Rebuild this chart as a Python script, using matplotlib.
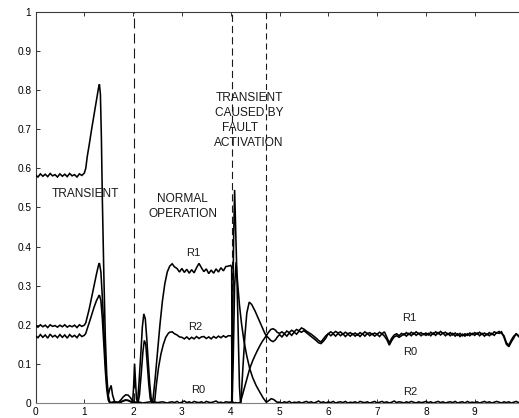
import numpy as np
import matplotlib
matplotlib.use("Agg")
import matplotlib.pyplot as plt

# ---- sampling instants of the steady stretches (s) ----
t_pre = np.round(np.arange(0.0, 1.001, 0.05), 2)       # 0.00 .. 1.00
t_normal = np.round(np.arange(2.80, 3.951, 0.05), 2)   # 2.80 .. 3.95
t_post = np.round(np.arange(5.00, 10.001, 0.05), 2)    # 5.00 .. 10.00

# ---- R0 ----
R0_pre = [0.583, 0.578, 0.586, 0.580, 0.585, 0.579, 0.587, 0.581, 0.584, 0.578,
          0.586, 0.580, 0.585, 0.579, 0.587, 0.581, 0.584, 0.578, 0.586, 0.582, 0.588]
R0_tr1_t = [1.03, 1.06, 1.10, 1.15, 1.20, 1.25, 1.29, 1.31, 1.33, 1.35, 1.37, 1.40,
            1.43, 1.46, 1.49, 1.52, 1.56, 1.60, 1.65, 1.70, 1.75, 1.80, 1.85, 1.90,
            1.95, 1.99, 2.05, 2.10, 2.20, 2.30, 2.40, 2.50, 2.60, 2.70, 2.75]
R0_tr1_v = [0.600, 0.630, 0.660, 0.700, 0.738, 0.775, 0.805, 0.815, 0.790, 0.680,
            0.520, 0.330, 0.170, 0.070, 0.020, 0.003, 0.001, 0.003, 0.000, 0.002,
            0.008, 0.016, 0.021, 0.020, 0.013, 0.004, 0.001, 0.003, 0.000, 0.002,
            0.004, 0.001, 0.003, 0.000, 0.002]
R0_normal = [0.003, 0.001, 0.004, 0.000, 0.002, 0.005, 0.001, 0.003, 0.000, 0.004,
             0.002, 0.001, 0.003, 0.000, 0.004, 0.002, 0.001, 0.003, 0.005, 0.001,
             0.002, 0.000, 0.003, 0.002]
R0_tr2_t = [4.00, 4.02, 4.04, 4.06, 4.08, 4.10, 4.12, 4.15, 4.18, 4.20, 4.25, 4.30,
            4.35, 4.39, 4.45, 4.50, 4.55, 4.60, 4.65, 4.70, 4.73, 4.77, 4.82, 4.87,
            4.92, 4.95]
R0_tr2_v = [0.002, 0.004, 0.200, 0.420, 0.545, 0.450, 0.360, 0.200, 0.040, 0.002,
            0.025, 0.048, 0.070, 0.088, 0.108, 0.122, 0.135, 0.147, 0.158, 0.167,
            0.172, 0.167, 0.160, 0.157, 0.162, 0.168]
R0_post = [0.175, 0.169, 0.177, 0.171, 0.179, 0.173, 0.181, 0.176, 0.184, 0.181,
           0.185, 0.180, 0.175, 0.170, 0.165, 0.160, 0.154, 0.152, 0.158, 0.166,
           0.178, 0.172, 0.177, 0.171, 0.178, 0.172, 0.177, 0.170, 0.176, 0.171,
           0.177, 0.171, 0.176, 0.170, 0.177, 0.171, 0.178, 0.172, 0.177, 0.171,
           0.176, 0.170, 0.177, 0.171, 0.162, 0.148, 0.160, 0.169, 0.172, 0.168,
           0.172, 0.177, 0.171, 0.178, 0.172, 0.179, 0.173, 0.178, 0.172, 0.177,
           0.173, 0.178, 0.172, 0.179, 0.173, 0.180, 0.174, 0.179, 0.172, 0.178,
           0.172, 0.178, 0.171, 0.177, 0.170, 0.176, 0.171, 0.177, 0.172, 0.178,
           0.173, 0.179, 0.172, 0.178, 0.171, 0.177, 0.172, 0.178, 0.173, 0.180,
           0.178, 0.182, 0.168, 0.150, 0.144, 0.156, 0.166, 0.178, 0.170, 0.176,
           0.178]

# ---- R1 ----
R1_pre = [0.198, 0.194, 0.200, 0.195, 0.199, 0.193, 0.200, 0.196, 0.198, 0.194,
          0.199, 0.195, 0.200, 0.194, 0.198, 0.195, 0.199, 0.193, 0.200, 0.196, 0.199]
R1_tr1_t = [1.03, 1.06, 1.10, 1.15, 1.20, 1.25, 1.29, 1.31, 1.34, 1.37, 1.40, 1.43,
            1.46, 1.49, 1.52, 1.55, 1.58, 1.62, 1.70, 1.75, 1.80, 1.85, 1.90, 1.95,
            2.00, 2.05, 2.09, 2.12, 2.16, 2.19, 2.22, 2.25, 2.28, 2.31, 2.34, 2.37,
            2.40, 2.45, 2.50, 2.55, 2.60, 2.65, 2.70, 2.75]
R1_tr1_v = [0.205, 0.220, 0.240, 0.270, 0.300, 0.330, 0.352, 0.358, 0.335, 0.270,
            0.190, 0.110, 0.050, 0.020, 0.035, 0.045, 0.020, 0.004, 0.001, 0.002,
            0.005, 0.007, 0.006, 0.003, 0.001, 0.002, 0.000, 0.050, 0.130, 0.195,
            0.228, 0.215, 0.165, 0.105, 0.050, 0.012, 0.000, 0.060, 0.130, 0.200,
            0.260, 0.305, 0.335, 0.350]
R1_normal = [0.356, 0.348, 0.344, 0.335, 0.344, 0.334, 0.342, 0.332, 0.341, 0.333,
             0.346, 0.357, 0.346, 0.336, 0.343, 0.331, 0.340, 0.332, 0.343, 0.335,
             0.346, 0.338, 0.349, 0.350]
R1_tr2_t = [4.00, 4.02, 4.03, 4.06, 4.10, 4.15, 4.21, 4.25, 4.29, 4.33, 4.38, 4.43,
            4.50, 4.57, 4.64, 4.70, 4.73, 4.77, 4.82, 4.87, 4.92, 4.95]
R1_tr2_v = [0.352, 0.348, 0.005, 0.000, 0.001, 0.000, 0.002, 0.090, 0.170, 0.230,
            0.258, 0.252, 0.235, 0.215, 0.195, 0.178, 0.172, 0.180, 0.188, 0.190,
            0.186, 0.181]
R1_post = [0.178, 0.182, 0.177, 0.184, 0.180, 0.186, 0.182, 0.188, 0.185, 0.192,
           0.189, 0.184, 0.180, 0.176, 0.171, 0.166, 0.160, 0.156, 0.164, 0.172,
           0.177, 0.182, 0.178, 0.183, 0.179, 0.182, 0.176, 0.181, 0.177, 0.180,
           0.175, 0.179, 0.174, 0.180, 0.176, 0.182, 0.177, 0.180, 0.175, 0.179,
           0.176, 0.181, 0.177, 0.182, 0.168, 0.154, 0.166, 0.174, 0.177, 0.172,
           0.178, 0.174, 0.180, 0.175, 0.181, 0.176, 0.182, 0.177, 0.180, 0.175,
           0.179, 0.174, 0.181, 0.176, 0.182, 0.177, 0.183, 0.178, 0.181, 0.175,
           0.180, 0.174, 0.179, 0.173, 0.178, 0.172, 0.177, 0.173, 0.179, 0.175,
           0.180, 0.176, 0.181, 0.175, 0.179, 0.174, 0.180, 0.175, 0.182, 0.179,
           0.183, 0.178, 0.172, 0.154, 0.148, 0.161, 0.171, 0.176, 0.172, 0.177,
           0.174]

# ---- R2 ----
R2_pre = [0.172, 0.167, 0.175, 0.168, 0.174, 0.166, 0.176, 0.169, 0.173, 0.167,
          0.175, 0.168, 0.174, 0.166, 0.175, 0.169, 0.173, 0.167, 0.176, 0.170, 0.173]
R2_tr1_t = [1.03, 1.06, 1.10, 1.15, 1.20, 1.25, 1.29, 1.31, 1.34, 1.37, 1.40, 1.43,
            1.46, 1.49, 1.52, 1.60, 1.70, 1.75, 1.80, 1.85, 1.90, 1.95, 1.99, 2.01,
            2.03, 2.05, 2.07, 2.10, 2.13, 2.17, 2.20, 2.23, 2.26, 2.29, 2.32, 2.35,
            2.38, 2.44, 2.48, 2.52, 2.57, 2.62, 2.67, 2.72, 2.75]
R2_tr1_v = [0.178, 0.190, 0.205, 0.225, 0.245, 0.262, 0.272, 0.276, 0.262, 0.215,
            0.150, 0.085, 0.035, 0.008, 0.000, 0.002, 0.001, 0.003, 0.006, 0.008,
            0.007, 0.004, 0.001, 0.040, 0.100, 0.055, 0.010, 0.000, 0.020, 0.080,
            0.130, 0.160, 0.150, 0.100, 0.050, 0.012, 0.000, 0.002, 0.050, 0.090,
            0.125, 0.150, 0.168, 0.178, 0.181]
R2_normal = [0.182, 0.177, 0.174, 0.169, 0.168, 0.164, 0.169, 0.163, 0.168, 0.164,
             0.170, 0.165, 0.169, 0.170, 0.165, 0.169, 0.164, 0.170, 0.166, 0.171,
             0.167, 0.172, 0.168, 0.172]
R2_tr2_t = [4.00, 4.02, 4.03, 4.05, 4.08, 4.11, 4.14, 4.18, 4.22, 4.27, 4.33, 4.39,
            4.45, 4.52, 4.60, 4.67, 4.73, 4.78, 4.83, 4.88, 4.93, 4.95]
R2_tr2_v = [0.172, 0.170, 0.005, 0.100, 0.300, 0.360, 0.310, 0.250, 0.205, 0.160,
            0.120, 0.088, 0.065, 0.045, 0.027, 0.012, 0.002, 0.006, 0.011, 0.009,
            0.004, 0.002]
R2_post = [0.002, 0.000, 0.003, 0.001, 0.004, 0.000, 0.002, 0.001, 0.003, 0.000,
           0.002, 0.004, 0.001, 0.003, 0.000, 0.002, 0.005, 0.001, 0.003, 0.000,
           0.003, 0.001, 0.004, 0.000, 0.002, 0.003, 0.001, 0.004, 0.000, 0.002,
           0.001, 0.003, 0.000, 0.004, 0.002, 0.001, 0.003, 0.000, 0.002, 0.004,
           0.000, 0.002, 0.004, 0.001, 0.003, 0.000, 0.002, 0.005, 0.001, 0.003,
           0.002, 0.000, 0.003, 0.001, 0.004, 0.002, 0.000, 0.003, 0.001, 0.002,
           0.004, 0.001, 0.003, 0.000, 0.002, 0.004, 0.001, 0.003, 0.000, 0.002,
           0.003, 0.001, 0.004, 0.000, 0.002, 0.003, 0.000, 0.004, 0.001, 0.002,
           0.001, 0.003, 0.000, 0.002, 0.004, 0.001, 0.003, 0.000, 0.002, 0.004,
           0.002, 0.000, 0.003, 0.001, 0.003, 0.000, 0.002, 0.004, 0.001, 0.002,
           0.001]

# phase boundaries (s)
boundaries = [2.02, 4.02, 4.72]
x_ticks = [0, 1, 2, 3, 4, 5, 6, 7, 8, 9]
y_ticks = [0, 0.1, 0.2, 0.3, 0.4, 0.5, 0.6, 0.7, 0.8, 0.9, 1]
y_tick_labels = ["0", "0.1", "0.2", "0.3", "0.4", "0.5", "0.6", "0.7", "0.8", "0.9", "1"]


def assemble(pre, tr1_t, tr1_v, normal, tr2_t, tr2_v, post):
    t = np.concatenate([t_pre, tr1_t, t_normal, tr2_t, t_post])
    v = np.concatenate([pre, tr1_v, normal, tr2_v, post])
    return t, v


series = {
    "R0": assemble(R0_pre, R0_tr1_t, R0_tr1_v, R0_normal, R0_tr2_t, R0_tr2_v, R0_post),
    "R1": assemble(R1_pre, R1_tr1_t, R1_tr1_v, R1_normal, R1_tr2_t, R1_tr2_v, R1_post),
    "R2": assemble(R2_pre, R2_tr1_t, R2_tr1_v, R2_normal, R2_tr2_t, R2_tr2_v, R2_post),
}

plt.rcParams["font.family"] = ["Liberation Sans", "DejaVu Sans"]

W, H = 519, 418
fig = plt.figure(figsize=(W / 100, H / 100), dpi=100)
fig.patch.set_facecolor("white")
# axes box: x from 35.5 px to 523.5 px (right edge runs past the canvas), y from 12 to 403 px
ax = fig.add_axes([35.5 / W, (H - 403) / H, (523.5 - 35.5) / W, (403 - 12) / H])

for name, (t, v) in series.items():
    ax.plot(t, v, color="black", lw=1.15, solid_joinstyle="miter", zorder=3)

dash_styles = [(0, (9, 4.5)), (0, (6.5, 3.6)), (0, (5.5, 3.6))]
for xb, ls in zip(boundaries, dash_styles):
    ax.axvline(xb, color="#1a1a1a", lw=0.8, linestyle=ls, zorder=2)

ax.set_xlim(0, 10)
ax.set_ylim(0, 1)
ax.set_xticks(x_ticks)
ax.set_xticklabels([str(x) for x in x_ticks])
ax.set_yticks(y_ticks)
ax.set_yticklabels(y_tick_labels)
ax.tick_params(direction="in", length=2.6, width=0.7, colors="#333333",
               labelcolor="black", labelsize=7.3, top=True, right=True, pad=3)
for side in ["left", "top", "right"]:
    ax.spines[side].set_color("#3a3a3a")
    ax.spines[side].set_linewidth(0.8)
ax.spines["bottom"].set_color("#808080")
ax.spines["bottom"].set_linewidth(0.8)

txt = dict(color="#1a1a1a", fontsize=8.6, ha="center", va="center")
ax.text(1.02, 0.535, "TRANSIENT", **txt)
ax.text(3.02, 0.521, "NORMAL", **txt)
ax.text(3.02, 0.484, "OPERATION", **txt)
ax.text(4.375, 0.779, "TRANSIENT", **txt)
ax.text(4.375, 0.742, "CAUSED BY", **txt)
ax.text(4.20, 0.703, "FAULT", **txt)
ax.text(4.375, 0.665, "ACTIVATION", **txt)

lab = dict(color="#1a1a1a", fontsize=8.0, ha="center", va="center")
ax.text(3.23, 0.384, "R1", **lab)
ax.text(3.27, 0.194, "R2", **lab)
ax.text(3.34, 0.033, "R0", **lab)
ax.text(7.65, 0.217, "R1", **lab)
ax.text(7.68, 0.130, "R0", **lab)
ax.text(7.68, 0.028, "R2", **lab)

fig.savefig("out.png", dpi=100)
